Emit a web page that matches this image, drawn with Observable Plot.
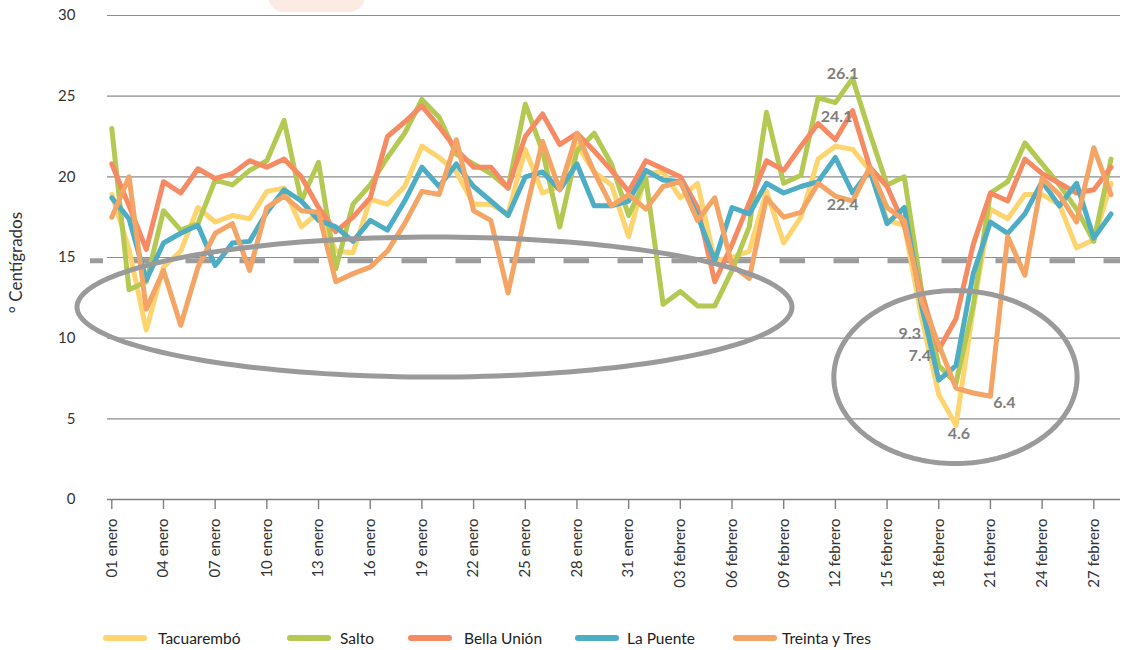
<!DOCTYPE html>
<html>
<head>
<meta charset="utf-8">
<script src="https://cdn.jsdelivr.net/npm/d3@7"></script>
<script src="https://cdn.jsdelivr.net/npm/@observablehq/plot@0.6"></script>
<style>
  html, body { margin: 0; padding: 0; background: #fff; }
  #wrap { position: relative; width: 1128px; height: 650px; overflow: hidden; font-family: Lato, "Open Sans", sans-serif; }
  #chart { position: relative; z-index: 1; }
  #deco { position: absolute; left: 268px; top: -32px; width: 97px; height: 44px; border-radius: 16px; background: #FCEBE2; z-index: 0; }
  #legend { position: absolute; left: 0; top: 626px; width: 1128px; height: 24px; font-size: 15.5px; color: #222; }
  .sw { position: absolute; top: 9px; width: 44px; height: 6px; border-radius: 3px; }
  .lt { position: absolute; top: 2px; line-height: 20px; white-space: nowrap; }
</style>
</head>
<body>
<div id="wrap">
  <div id="deco"></div>
  <div id="chart"></div>
  <div id="legend"></div>
</div>
<script>
// ---- data ----
const series = ["Tacuarembó", "Salto", "Bella Unión", "La Puente", "Treinta y Tres"];
const colors = ["#FDD46E", "#B3C952", "#F68A62", "#4CADC5", "#F4A464"];

const tacuarembo = [18.9, 15.5, 10.5, 14.4, 15.4, 18.1, 17.2, 17.6, 17.4, 19.1,
  19.3, 16.9, 17.8, 15.4, 15.3, 18.6, 18.3, 19.4, 21.9, 21.2,
  20.3, 18.3, 18.3, 17.7, 21.7, 19.0, 19.4, 22.0, 20.3, 19.5,
  16.3, 20.2, 20.3, 18.7, 19.6, 14.8, 15.0, 15.4, 19.1, 15.9,
  17.5, 21.1, 21.9, 21.7, 20.4, 17.3, 17.0, 11.3, 6.5, 4.6,
  11.8, 18.0, 17.4, 18.9, 18.9, 18.3, 15.6, 16.1, 19.6];

const salto = [23.0, 13.0, 13.5, 17.9, 16.7, 17.1, 19.8, 19.5, 20.4, 21.0,
  23.5, 18.5, 20.9, 14.3, 18.3, 19.5, 21.2, 22.7, 24.8, 23.7,
  21.4, 20.8, 20.2, 19.3, 24.5, 21.6, 16.9, 21.6, 22.7, 20.8,
  17.6, 19.9, 12.1, 12.9, 12.0, 12.0, 14.2, 16.9, 24.0, 19.6,
  20.1, 24.9, 24.6, 26.1, 22.7, 19.5, 20.0, 13.0, 8.3, 7.2,
  12.0, 19.0, 19.7, 22.1, 20.8, 19.5, 18.0, 16.0, 21.1];

const bellaUnion = [20.8, 18.2, 15.5, 19.7, 19.0, 20.5, 19.9, 20.2, 21.0, 20.6,
  21.1, 20.0, 18.1, 16.6, 17.5, 18.7, 22.5, 23.4, 24.4, 23.1,
  21.7, 20.6, 20.6, 19.3, 22.5, 23.9, 22.0, 22.7, 21.6, 20.4,
  19.1, 21.0, 20.5, 20.0, 18.1, 13.5, 15.8, 18.4, 21.0, 20.4,
  21.9, 23.3, 22.3, 24.1, 20.6, 19.4, 17.0, 12.8, 9.3, 11.2,
  15.8, 19.0, 18.5, 21.1, 20.2, 19.6, 19.0, 19.2, 20.6];

const laPuente = [18.7, 17.4, 13.6, 15.9, 16.5, 17.0, 14.5, 15.9, 16.0, 17.8,
  19.2, 18.5, 17.3, 16.9, 16.0, 17.3, 16.7, 18.5, 20.6, 19.4,
  20.8, 19.4, 18.5, 17.6, 20.0, 20.3, 19.2, 20.8, 18.2, 18.2,
  18.5, 20.4, 19.8, 19.7, 17.6, 14.8, 18.1, 17.7, 19.6, 19.0,
  19.4, 19.7, 21.2, 19.0, 20.4, 17.1, 18.1, 12.0, 7.4, 8.3,
  14.0, 17.2, 16.5, 17.7, 19.7, 18.2, 19.6, 16.2, 17.7];

const treintaYTres = [17.5, 20.0, 11.8, 14.2, 10.8, 14.4, 16.5, 17.1, 14.2, 18.1,
  18.8, 17.9, 17.8, 13.5, 14.0, 14.4, 15.4, 17.1, 19.1, 18.9,
  22.3, 17.9, 17.3, 12.8, 17.7, 22.2, 19.2, 22.7, 20.3, 18.2,
  18.9, 18.0, 19.4, 19.7, 17.3, 18.7, 14.5, 13.7, 18.7, 17.5,
  17.8, 19.6, 18.8, 18.5, 20.6, 18.1, 17.3, 12.3, 9.6, 6.9,
  6.6, 6.4, 16.3, 13.9, 19.9, 18.9, 17.2, 21.8, 18.9];

const tickLabels = ["01 enero", "04 enero", "07 enero", "10 enero", "13 enero", "16 enero",
  "19 enero", "22 enero", "25 enero", "28 enero", "31 enero", "03 febrero", "06 febrero",
  "09 febrero", "12 febrero", "15 febrero", "18 febrero", "21 febrero", "24 febrero", "27 febrero"];
const tickDays = [0, 3, 6, 9, 12, 15, 18, 21, 24, 27, 30, 33, 36, 39, 42, 45, 48, 51, 54, 57];

const yTicks = [0, 5, 10, 15, 20, 25, 30];
const threshold = [14.8];
const yTitle = ["° Centígrados"];

// annotations: value labels attached to a series point
const valueLabels = [
  {serie: "Salto", day: 43, label: "26.1"},
  {serie: "Bella Unión", day: 43, label: "24.1"},
  {serie: "Treinta y Tres", day: 43, label: "22.4"},
  {serie: "Bella Unión", day: 48, label: "9.3"},
  {serie: "La Puente", day: 48, label: "7.4"},
  {serie: "Tacuarembó", day: 49, label: "4.6"},
  {serie: "Treinta y Tres", day: 51, label: "6.4"}
];
// highlight ellipses (data units: day, °C)
const highlights = [
  {id: "a", cx: 18.73, cy: 11.93, rx: 20.75, ry: 4.34},
  {id: "b", cx: 48.97, cy: 7.59, rx: 7.06, ry: 5.36}
];

// ---- build ----
const values = [tacuarembo, salto, bellaUnion, laPuente, treintaYTres];
const rows = series.flatMap((s, i) => values[i].map((v, d) => ({serie: s, day: d, temp: v})));
const valueOf = (s, d) => values[series.indexOf(s)][d];

const ellipsePts = highlights.flatMap(e => d3.range(0, 181).map(k => {
  const t = (k / 180) * 2 * Math.PI;
  return {id: e.id, day: e.cx + e.rx * Math.cos(t), temp: e.cy + e.ry * Math.sin(t)};
}));

const labelOffsets = [[-10, -5], [-16, 6], [-10, 4], [-29, -16], [-19, -24], [3, 9], [14, 7]];
const labelMarks = valueLabels.map((a, i) => Plot.text([{...a, temp: valueOf(a.serie, a.day)}], {
  x: "day", y: "temp", text: "label",
  dx: labelOffsets[i][0], dy: labelOffsets[i][1],
  fill: "#7f7f7f", fontWeight: "bold", fontSize: 16,
  fontFamily: "Lato, 'Open Sans', sans-serif"
}));

const chart = Plot.plot({
  width: 1128,
  height: 620,
  marginLeft: 107,
  marginRight: 8,
  marginTop: 15,
  marginBottom: 121,
  x: {domain: [-0.25, 58.55]},
  y: {domain: [0, 30]},
  color: {domain: series, range: colors},
  style: {fontFamily: "Lato, 'Open Sans', sans-serif", fontSize: "15px", color: "#333", background: "transparent", overflow: "visible"},
  marks: [
    Plot.ruleY(yTicks.filter(v => v > 0), {stroke: "#8c8c8c", strokeWidth: 1.2}),
    Plot.ruleY(threshold, {stroke: "#9c9c9c", strokeWidth: 5, strokeDasharray: "25.5,28.5", strokeDashoffset: 12.5, insetLeft: -17}),
    Plot.line(rows, {x: "day", y: "temp", z: "serie", stroke: "serie", strokeWidth: 5,
      strokeLinejoin: "round", strokeLinecap: "round", curve: "linear"}),
    Plot.line(ellipsePts, {x: "day", y: "temp", z: "id", stroke: "#9a9a9a", strokeWidth: 5, curve: "linear-closed"}),
    ...labelMarks,
    Plot.ruleY([0], {stroke: "#7f7f7f", strokeWidth: 1.6}),
    Plot.axisX({ticks: tickDays, tickFormat: d => tickLabels[tickDays.indexOf(d)], tickRotate: -90,
      tickSize: 10, tickPadding: 9, stroke: "#7f7f7f", strokeWidth: 1.4, fill: "#333", fontSize: 15, label: null}),
    Plot.axisY({ticks: yTicks, tickSize: 0, tickPadding: 32, fill: "#333", fontSize: 15, label: null}),
    Plot.text(yTitle, {frameAnchor: "left", textAnchor: "middle", dx: -91, dy: 5, rotate: -90,
      fontSize: 17, fill: "#333", fontFamily: "Lato, 'Open Sans', sans-serif"})
  ]
});
document.getElementById("chart").appendChild(chart);

// legend
const legend = document.getElementById("legend");
const swLeft = [103, 287, 408, 575, 733];
const txLeft = [158, 340, 464, 627, 782];
series.forEach((s, i) => {
  const sw = document.createElement("div");
  sw.className = "sw"; sw.style.left = swLeft[i] + "px"; sw.style.background = colors[i];
  const tx = document.createElement("div");
  tx.className = "lt"; tx.style.left = txLeft[i] + "px"; tx.textContent = s;
  legend.appendChild(sw); legend.appendChild(tx);
});
</script>
</body>
</html>
